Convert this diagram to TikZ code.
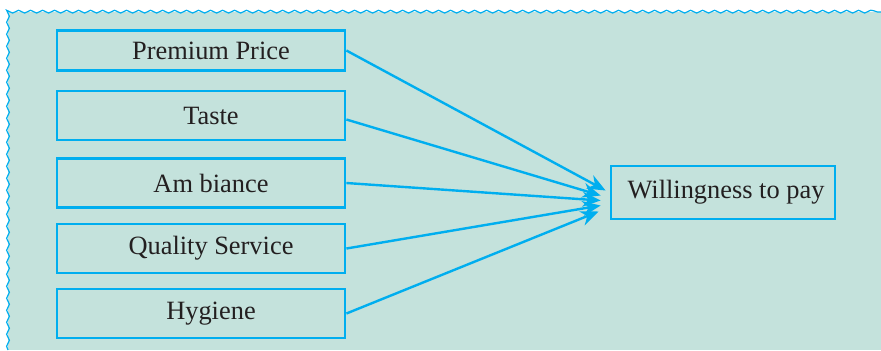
\documentclass[tikz,border=0pt]{standalone}
\usepackage{fontspec}
\setmainfont{Liberation Serif}
\usepackage{tikz}
\usetikzlibrary{arrows.meta,calc,decorations.pathmorphing}
\usepackage{xcolor}
\definecolor{wtpblue}{RGB}{0,174,239}
\definecolor{wtpteal}{RGB}{196,226,220}
\definecolor{wtptext}{RGB}{35,31,32}
\tikzstyle{factor} = [rectangle, minimum width=144pt, minimum height=24.5pt, text centered, draw=wtpblue, line width=1.4pt, text=wtptext, font=\rmfamily\fontsize{13.2}{16}\selectfont]
\tikzstyle{outcome} = [rectangle, minimum width=112pt, minimum height=26.5pt, text centered, draw=wtpblue, line width=1.4pt, text=wtptext, font=\rmfamily\fontsize{13.2}{16}\selectfont]
\tikzstyle{arrow} = [line width=1.2pt, -{Stealth[length=9pt,width=7.5pt]}, color=wtpblue]
\tikzstyle{wavy} = [draw=wtpblue, line width=0.6pt, decorate, decoration={snake, amplitude=0.7pt, segment length=6pt}]

\begin{document}
\begin{tikzpicture}[x=0.5pt,y=-0.5pt]
\useasboundingbox (0,0) rectangle (881,350);

% Panel
\fill[wtpteal] (8,12) rectangle (881,350);
\draw[wavy] (8,350) -- (8,12) -- (881,12);

% Factors
\node[factor, minimum height=20pt] (price) at (201,50.5) {\hspace*{10pt}Premium Price};
\node[factor] (taste) at (201,115.5) {\hspace*{10pt}Taste};
\node[factor] (ambiance) at (201,183) {\hspace*{10pt}Am biance};
\node[factor] (service) at (201,248.5) {\hspace*{10pt}Quality Service};
\node[factor] (hygiene) at (201,313.5) {\hspace*{10pt}Hygiene};

% Outcome
\node[outcome] (wtp) at (723,192.5) {\hspace*{3pt}Willingness to pay};

% Arrows
\draw[arrow] (price.east) -- ($(wtp.west)+(-4,-2)$);
\draw[arrow] ([yshift=-2pt]taste.east) -- ($(wtp.west)+(-9,3)$);
\draw[arrow] (ambiance.east) -- ($(wtp.west)+(-9,8)$);
\draw[arrow] (service.east) -- ($(wtp.west)+(-9,13)$);
\draw[arrow] (hygiene.east) -- ($(wtp.west)+(-11,19)$);
\end{tikzpicture}
\end{document}
